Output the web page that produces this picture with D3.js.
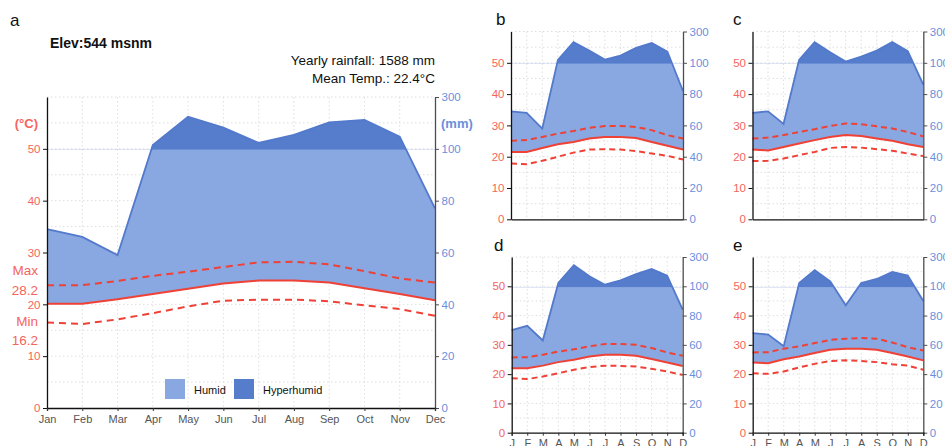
<!DOCTYPE html>
<html>
<head>
<meta charset="utf-8">
<script src="https://cdn.jsdelivr.net/npm/d3@7"></script>
<style>
body { margin: 0; background: #fff; }
text { font-family: "Liberation Sans", Arial, sans-serif; }
</style>
</head>
<body>
<div id="chart"></div>
<script>
var months = ["Jan", "Feb", "Mar", "Apr", "May", "Jun", "Jul", "Aug", "Sep", "Oct", "Nov", "Dec"];
var monthInitials = ["J", "F", "M", "A", "M", "J", "J", "A", "S", "O", "N", "D"];
var tempTicks = [0, 10, 20, 30, 40, 50];
var precTicks = [0, 20, 40, 60, 80, 100, 300];

// panel a
var precA = [69, 66, 59, 115, 224, 182, 123, 154, 202, 212, 147, 77];
var tmeanA = [20.1, 20.1, 21.0, 22.0, 23.0, 24.0, 24.6, 24.6, 24.2, 23.1, 22.0, 20.8];
var tmaxA = [23.7, 23.7, 24.5, 25.5, 26.3, 27.2, 28.1, 28.2, 27.7, 26.4, 25.0, 24.2];
var tminA = [16.5, 16.2, 17.1, 18.3, 19.6, 20.7, 20.9, 20.9, 20.6, 19.8, 19.1, 17.8];
// panel b
var precB = [69, 68, 58, 119, 232, 178, 121, 146, 195, 226, 172, 82];
var tmeanB = [21.5, 21.5, 22.8, 24.0, 24.7, 25.8, 26.3, 26.3, 26.0, 24.7, 23.5, 22.3];
var tmaxB = [25.1, 25.3, 26.3, 27.4, 28.2, 29.2, 29.8, 29.8, 29.5, 28.5, 26.9, 25.8];
var tminB = [17.8, 17.6, 18.7, 20.0, 21.3, 22.3, 22.4, 22.3, 21.8, 21.0, 20.3, 19.1];
// panel c
var precC = [68, 69, 61, 119, 232, 168, 108, 140, 178, 232, 174, 86];
var tmeanC = [22.3, 22.0, 23.1, 24.2, 25.3, 26.3, 26.9, 26.6, 25.8, 25.1, 24.0, 23.1];
var tmaxC = [25.8, 26.1, 26.9, 27.9, 28.8, 29.8, 30.6, 30.4, 29.7, 29.0, 27.9, 26.5];
var tminC = [18.6, 18.7, 19.4, 20.5, 21.5, 22.8, 23.1, 22.9, 22.4, 21.9, 21.0, 20.2];
// panel d
var precD = [70, 73, 63, 123, 244, 168, 111, 141, 184, 219, 173, 84];
var tmeanD = [22.0, 22.0, 22.9, 24.1, 24.9, 26.0, 26.6, 26.6, 26.3, 25.2, 24.0, 22.8];
var tmaxD = [25.7, 25.8, 26.6, 27.7, 28.5, 29.5, 30.3, 30.3, 30.0, 28.9, 27.4, 26.3];
var tminD = [18.6, 18.3, 19.2, 20.3, 21.5, 22.4, 22.9, 22.8, 22.6, 21.8, 20.9, 19.7];
// panel e
var precE = [68, 67, 59, 123, 210, 134, 87, 123, 150, 198, 173, 90];
var tmeanE = [24.0, 23.7, 25.1, 26.0, 27.2, 28.3, 28.7, 28.7, 28.3, 27.2, 26.0, 24.7];
var tmaxE = [27.4, 27.5, 28.7, 29.5, 30.6, 31.7, 32.1, 32.3, 32.1, 30.8, 29.2, 28.1];
var tminE = [20.3, 20.1, 20.9, 22.3, 23.5, 24.5, 24.7, 24.5, 24.1, 23.4, 22.9, 21.5];

var elevText = "Elev:544 msnm";
var rainText = "Yearly rainfall: 1588 mm";
var meanText = "Mean Temp.: 22.4\u00b0C";
var maxLabel = "28.2";
var minLabel = "16.2";

var light = "#89a7e0", dark = "#557dcb", blueLine = "#5279cc";
var red = "#ef4136", redText = "#f5645c", blueText = "#6a8fdc";

var svg = d3.select("#chart").append("svg")
    .attr("width", 945)
    .attr("height", 446);

function panel(id, box, prec, tmean, tmax, tmin) {
    var g = svg.append("g");
    var x = d3.scalePoint().domain(d3.range(12)).range([box.x0, box.x1]);
    var y = d3.scaleLinear().domain([0, 60]).range([box.y1, box.y0]);
    var yp = d3.scaleLinear().domain([0, 100, 300]).range([y(0), y(50), y(60)]);

    // dotted grid
    g.selectAll(".hg").data(d3.range(5, 61, 5)).enter().append("line")
        .attr("x1", box.x0).attr("x2", box.x1)
        .attr("y1", d => y(d)).attr("y2", d => y(d))
        .attr("stroke", "#dedede").attr("stroke-dasharray", "1.5,2.5");
    g.selectAll(".vg").data(d3.range(1, 11)).enter().append("line")
        .attr("x1", d => x(d)).attr("x2", d => x(d))
        .attr("y1", box.y0).attr("y2", box.y1)
        .attr("stroke", "#dedede").attr("stroke-dasharray", "1.5,2.5");

    var defs = g.append("defs");
    defs.append("clipPath").attr("id", "below" + id).append("rect")
        .attr("x", box.x0).attr("y", y(50))
        .attr("width", box.x1 - box.x0).attr("height", y(0) - y(50));
    defs.append("clipPath").attr("id", "above" + id).append("rect")
        .attr("x", box.x0).attr("y", y(60) - 10)
        .attr("width", box.x1 - box.x0).attr("height", y(50) - y(60) + 11);

    var humid = d3.area()
        .x((d, i) => x(i))
        .y0((d, i) => y(tmean[i]))
        .y1(d => yp(d));
    g.append("path").datum(prec)
        .attr("d", humid)
        .attr("fill", light)
        .attr("clip-path", "url(#below" + id + ")");

    // starts 1px lower so no seam shows at 100 mm
    var hyper = d3.area()
        .x((d, i) => x(i))
        .y0(y(50) + 1)
        .y1(d => yp(d));
    g.append("path").datum(prec)
        .attr("d", hyper)
        .attr("fill", dark)
        .attr("clip-path", "url(#above" + id + ")");

    var pline = d3.line().x((d, i) => x(i)).y(d => yp(d));
    g.append("path").datum(prec).attr("d", pline)
        .attr("fill", "none").attr("stroke", blueLine).attr("stroke-width", 1.8);

    var tline = d3.line().x((d, i) => x(i)).y(d => y(d));
    g.append("path").datum(tmean).attr("d", tline)
        .attr("fill", "none").attr("stroke", red).attr("stroke-width", 2);
    [tmax, tmin].forEach(function (s) {
        g.append("path").datum(s).attr("d", tline)
            .attr("fill", "none").attr("stroke", red).attr("stroke-width", 2)
            .attr("stroke-dasharray", box.dash);
    });

    // axes
    var left = g.append("g")
        .attr("transform", "translate(" + box.x0 + ",0)")
        .call(d3.axisLeft(y).tickValues(tempTicks).tickSize(4).tickSizeOuter(0).tickPadding(2.5));
    left.select(".domain").attr("stroke", "#111").attr("stroke-width", 1.3);
    left.selectAll(".tick line").attr("stroke", "#111");
    left.selectAll("text").attr("fill", redText).attr("font-size", 11.5);

    var right = g.append("g")
        .attr("transform", "translate(" + box.x1 + ",0)")
        .call(d3.axisRight(yp).tickValues(precTicks).tickSize(4).tickSizeOuter(0).tickPadding(2.5));
    right.select(".domain").attr("stroke", "#4d4d4d").attr("stroke-width", 1.3);
    right.selectAll(".tick line").attr("stroke", "#4d4d4d");
    right.selectAll("text").attr("fill", blueText).attr("font-size", 11.5);

    var bx = d3.scalePoint().domain(d3.range(12)).range([box.x0, box.x1]);
    var bottomAxis = d3.axisBottom(bx).tickSizeOuter(0);
    if (box.labels) {
        bottomAxis.tickSize(3).tickPadding(box.pad).tickFormat(i => box.labels[i]);
    } else {
        bottomAxis.tickSize(0).tickFormat("");
    }
    var bottom = g.append("g")
        .attr("transform", "translate(0," + box.y1 + ")")
        .call(bottomAxis);
    bottom.select(".domain").attr("stroke", "#111").attr("stroke-width", 1.3);
    bottom.selectAll(".tick line").attr("stroke", "#333");
    bottom.selectAll("text").attr("fill", "#555").attr("font-size", 11);

    g.append("text")
        .attr("x", box.lx).attr("y", box.ly)
        .attr("font-size", 17)
        .attr("fill", "#111")
        .text(id);

    return { g: g, x: x, y: y };
}

var pa = panel("a", { x0: 47, x1: 435, y0: 97, y1: 408, dash: "7,5", labels: months, pad: 4, lx: 10, ly: 26 },
    precA, tmeanA, tmaxA, tminA);
panel("b", { x0: 511, x1: 683, y0: 31.5, y1: 219.3, dash: "6,4", lx: 496, ly: 25 },
    precB, tmeanB, tmaxB, tminB);
panel("c", { x0: 752.5, x1: 923.3, y0: 31.5, y1: 219.3, dash: "6,4", lx: 733, ly: 25 },
    precC, tmeanC, tmaxC, tminC);
panel("d", { x0: 511.7, x1: 682.7, y0: 257, y1: 432.7, dash: "6,4", labels: monthInitials, pad: 3.5, lx: 494, ly: 251 },
    precD, tmeanD, tmaxD, tminD);
panel("e", { x0: 752.7, x1: 923.3, y0: 257, y1: 432.7, dash: "6,4", labels: monthInitials, pad: 3.5, lx: 733, ly: 251 },
    precE, tmeanE, tmaxE, tminE);

// panel a annotations
var ga = pa.g;
ga.append("text").attr("x", 50).attr("y", 48)
    .attr("font-size", 14).attr("font-weight", "bold").attr("fill", "#111")
    .text(elevText);
ga.append("text").attr("x", 435).attr("y", 65).attr("text-anchor", "end")
    .attr("font-size", 13.5).attr("fill", "#111").text(rainText);
ga.append("text").attr("x", 435).attr("y", 83).attr("text-anchor", "end")
    .attr("font-size", 13.5).attr("fill", "#111").text(meanText);
ga.append("text").attr("x", 38).attr("y", 128).attr("text-anchor", "end")
    .attr("font-size", 13).attr("font-weight", "bold").attr("fill", redText).text("(\u00b0C)");
ga.append("text").attr("x", 441).attr("y", 128)
    .attr("font-size", 13).attr("font-weight", "bold").attr("fill", blueText).text("(mm)");

var sideLabels = [["Max", 275], [maxLabel, 295], ["Min", 326], [minLabel, 345]];
ga.selectAll(".side").data(sideLabels).enter().append("text")
    .attr("x", 38).attr("y", d => d[1]).attr("text-anchor", "end")
    .attr("font-size", 13.5).attr("fill", redText).text(d => d[0]);

// legend
var legendItems = [["Humid", light, 165], ["Hyperhumid", dark, 234]];
var lg = ga.selectAll(".leg").data(legendItems).enter().append("g");
lg.append("rect").attr("x", d => d[2]).attr("y", 379)
    .attr("width", 20).attr("height", 20).attr("fill", d => d[1]);
lg.append("text").attr("x", d => d[2] + 29).attr("y", 394)
    .attr("font-size", 11).attr("fill", "#111").text(d => d[0]);
</script>
</body>
</html>
